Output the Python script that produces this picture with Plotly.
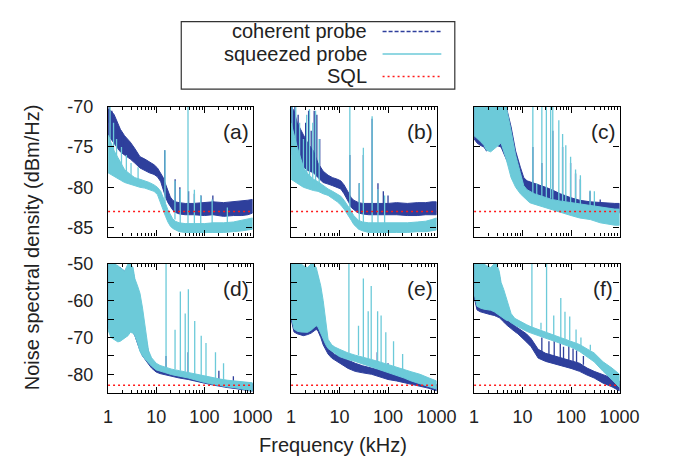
import plotly.graph_objects as go

# ---------------- data ----------------
FREQ_TOP = [1, 1.15, 1.34, 1.6, 1.8, 2.2, 2.9, 3.6, 4.6, 5.8, 7.2, 9, 10.6, 12.4, 14,
            15.6, 17.5, 19.6, 22, 24.7, 30, 40, 60, 100, 150, 250, 400, 600, 800, 1000]
FREQ_BOT = [1, 1.15, 1.34, 1.6, 1.8, 2.2, 2.6, 2.9, 3.3, 3.6, 4.1, 4.6, 5.2, 5.8, 6.9,
            8, 10, 12, 15, 21, 30, 46, 70, 100, 150, 214, 300, 458, 700, 1000]

# panel (a)
A_COH_HI = [-70.3, -70.5, -71, -72, -72.8, -73.6, -74.4, -75.2, -76.2, -76.5, -76.8, -77.2, -77.6, -78.2, -78.8,
            -79.6, -80.5, -81.2, -81.6, -81.8, -81.9, -82, -82, -81.9, -81.8, -81.9, -81.8, -81.7, -81.6, -81.5]
A_COH_LO = [-73.5, -74, -74.6, -75.2, -75.6, -76, -76.5, -77, -77.6, -77.9, -78.2, -78.4, -78.7, -79.3, -80.2,
            -81.2, -81.9, -82.4, -82.8, -83.1, -83.3, -83.4, -83.4, -83.5, -83.4, -83.6, -83.5, -83.5, -83.4, -83.2]
A_SQZ_HI = [-73.5, -74.5, -75.5, -76.3, -76.8, -77.8, -78.4, -78.8, -79, -79.2, -79.4, -79.7, -80, -80.5, -81.2,
            -82, -82.8, -83.4, -83.9, -84.2, -84.4, -84.5, -84.5, -84.5, -84.4, -84.4, -84.3, -84.1, -84, -83.8]
A_SQZ_LO = [-78.2, -78.4, -78.6, -78.9, -79.1, -79.4, -79.6, -79.8, -80, -80.1, -80.3, -80.5, -80.9, -81.8, -82.8,
            -83.6, -84.3, -84.8, -85.1, -85.3, -85.5, -85.6, -85.6, -85.6, -85.6, -85.6, -85.5, -85.4, -85.3, -85.2]
A_COH_SPK_F = [1.05, 1.2, 1.35, 1.6, 2.0, 15, 24.7, 31, 47, 62, 85, 150]
A_COH_SPK_TOP = [-70, -70.5, -72, -72.5, -73.5, -75.4, -79, -80, -80.5, -80.8, -81, -81]
A_COH_SPK_BASE = [-72, -72, -73, -74, -75, -80, -82, -82, -82, -82, -82, -82]
A_SQZ_SPK_F = [1.1, 1.3, 1.5, 1.9, 2.4, 3.0, 4.2, 15.2, 24.5, 31.5, 45.7, 62, 84, 145, 300]
A_SQZ_SPK_TOP = [-70, -72, -74, -75, -76, -77, -77.5, -75.4, -79.2, -80.2, -70, -80.3, -81, -81.5, -82.5]
A_SQZ_SPK_BASE = [-76, -77, -77, -78, -78, -79, -79.5, -82, -84, -84.5, -84.5, -84.5, -84.5, -84.5, -84.5]

# panel (b)
B_COH_HI = [-70, -70.5, -72, -73, -73.5, -74.5, -75.5, -77, -78, -78.5, -78.8, -79, -79.2, -79.7, -80.3,
            -80.9, -81.3, -81.6, -81.8, -81.9, -82, -82, -82, -82, -81.9, -82, -81.9, -81.9, -81.8, -81.8]
B_COH_LO = [-75, -76, -76.8, -77.2, -77.5, -77.9, -78.2, -78.8, -79.4, -79.6, -79.8, -80, -80.2, -80.8, -81.3,
            -81.9, -82.5, -82.8, -83, -83.2, -83.3, -83.4, -83.4, -83.4, -83.4, -83.5, -83.5, -83.4, -83.4, -83.4]
B_SQZ_HI = [-72, -73.5, -75, -76.5, -77.5, -78.3, -79, -79.3, -79.8, -80.2, -80.5, -80.8, -81.1, -81.6, -82,
            -82.5, -83, -83.5, -83.8, -84.1, -84.3, -84.4, -84.4, -84.4, -84.4, -84.4, -84.3, -84.2, -84, -83.8]
B_SQZ_LO = [-79, -79.2, -79.5, -79.8, -80, -80.2, -80.4, -80.5, -80.8, -81, -81.4, -81.8, -82.2, -82.7, -83.2,
            -83.6, -84.1, -84.6, -84.9, -85.2, -85.4, -85.6, -85.6, -85.6, -85.6, -85.6, -85.5, -85.5, -85.4, -85.3]
B_COH_SPK_F = [1.05, 1.2, 1.4, 1.7, 2.0, 2.3, 2.6, 3.0, 3.4, 3.9, 16.3, 25.5, 31, 47, 62, 80, 100]
B_COH_SPK_TOP = [-70, -70, -71, -73.5, -72, -70.5, -73, -70.5, -71, -74, -76, -79.5, -76, -71.5, -79.5, -80.5, -81]
B_COH_SPK_BASE = [-74, -74, -75, -75, -76, -76, -77, -77, -78, -78, -81, -82, -82, -82, -82, -82, -82]
B_SQZ_SPK_F = [1.05, 1.25, 1.5, 1.8, 2.1, 2.4, 2.8, 3.2, 3.8, 16.3, 25.5, 31, 47, 62, 85]
B_SQZ_SPK_TOP = [-70, -70, -72, -74, -71, -70.3, -72, -70.5, -74, -70, -79.5, -75.1, -71.2, -80.2, -81]
B_SQZ_SPK_BASE = [-76, -77, -78, -79, -79, -79, -80, -80, -80, -83, -84.5, -84.5, -84.5, -84.5, -84.5]

# panel (c)
C_COH_HI = [-70, -70, -70, -70, -70, -70, -70, -70, -70, -72.5, -75.5, -77.5, -78.8, -79.2, -79.3,
            -79.4, -79.5, -79.6, -79.7, -79.8, -80, -80.3, -80.8, -81.3, -81.6, -81.8, -81.9, -81.9, -82, -82]
C_COH_LO = [-74, -74.5, -74.8, -75, -75.5, -75.2, -74.8, -75, -76.5, -77.8, -78.8, -79.6, -80, -80.4, -80.6,
            -80.8, -81, -81.2, -81.4, -81.6, -81.8, -82, -82.3, -82.6, -82.8, -83, -83.1, -83.1, -83.2, -83.2]
C_SQZ_HI = [-70, -70, -70, -70, -70, -70, -70, -70, -70, -73, -76, -78.2, -79.8, -80.3, -80.5,
            -80.7, -80.8, -80.9, -81, -81.1, -81.3, -81.5, -81.7, -81.9, -82.1, -82.3, -82.5, -82.6, -82.7, -82.7]
C_SQZ_LO = [-73.6, -73.9, -74.3, -74.8, -75.4, -75.6, -75, -74.5, -76.5, -78.8, -80, -80.8, -81.3, -81.6, -81.9,
            -82, -82.1, -82.2, -82.3, -82.4, -82.6, -82.8, -83.1, -83.5, -83.8, -84, -84.4, -84.6, -84.7, -84.7]
C_COH_SPK_F = [16.3, 25, 42, 67, 98, 124, 156, 247, 400]
C_COH_SPK_TOP = [-75, -77, -73, -75, -77, -78.3, -79, -80.5, -81.5]
C_COH_SPK_BASE = [-80, -80.5, -80.8, -81, -81.5, -81.8, -82, -82, -82]
C_SQZ_SPK_F = [16.3, 19.6, 25, 31, 38, 42, 56, 67, 78, 98, 124, 156, 247, 303]
C_SQZ_SPK_TOP = [-70, -79.5, -70, -70, -70, -70, -71.7, -73.4, -74.8, -76.2, -77.8, -78.5, -80.4, -80.5]
C_SQZ_SPK_BASE = [-81, -81.2, -81.3, -81.4, -81.4, -81.5, -81.6, -81.7, -81.8, -82, -82.1, -82.2, -82.4, -82.5]

# panel (d)
D_COH_HI = [-50, -50, -50, -51, -51, -52, -51, -51, -52, -55, -58, -61, -65, -69, -74,
            -76, -77.5, -78, -78.4, -79, -79.4, -79.9, -80.4, -80.8, -81.2, -81.6, -81.9, -82.1, -82.3, -82.5]
D_COH_LO = [-67, -69.5, -70, -70.5, -70.5, -70, -69, -68.3, -68.5, -69.5, -71.5, -73.5, -75, -76, -77.2,
            -78.3, -79.4, -79.8, -80.1, -80.6, -81, -81.4, -81.9, -82.4, -82.9, -83.3, -83.6, -83.9, -84.2, -84.6]
D_SQZ_HI = [-50, -50, -50, -50.5, -51, -52, -50, -50, -51, -54, -56, -58, -62, -67, -73.5,
            -75.5, -77, -77.6, -78, -78.6, -79, -79.5, -80, -80.5, -81, -81.3, -81.6, -81.8, -82, -82.3]
D_SQZ_LO = [-68, -70, -70.5, -71.2, -71, -70.3, -69.5, -68.6, -68.8, -69.5, -71.5, -73.8, -75, -75.8, -77,
            -77.8, -78.8, -79.2, -79.5, -80.1, -80.5, -81, -81.6, -82.2, -82.7, -83.1, -83.4, -83.7, -84.1, -84.5]
D_COH_SPK_F = [2.1, 16, 46, 200, 400]
D_COH_SPK_TOP = [-52, -75, -74, -79, -80.5]
D_COH_SPK_BASE = [-60, -78.4, -80, -81.6, -82]
D_SQZ_SPK_F = [16, 24.6, 31.7, 40, 46.5, 63, 86, 108, 170, 250]
D_SQZ_SPK_TOP = [-50, -67.9, -57.5, -63.5, -56.9, -65.5, -69.5, -71.5, -74, -77]
D_SQZ_SPK_BASE = [-78, -78.6, -79, -79.3, -79.5, -80, -80.3, -80.6, -81, -81.4]

# panel (e)
E_COH_HI = [-50, -50, -50, -50.5, -51, -51.5, -51, -51, -52, -54, -58, -63, -69, -72, -73.9,
            -74.6, -75.2, -75.7, -76.3, -77, -77.7, -78.3, -79, -79.6, -80, -80.5, -80.9, -81.4, -82, -82.7]
E_COH_LO = [-65, -68.5, -69, -69.3, -69.5, -69.2, -68.8, -68.3, -67.8, -68.3, -70, -72, -73.4, -74.5, -75.6,
            -76.3, -77, -77.6, -78.4, -79.2, -79.6, -80, -80.7, -81.4, -81.8, -82.3, -82.7, -83.2, -83.8, -84.5]
E_SQZ_HI = [-50, -50, -50, -50, -50.5, -51, -50, -50, -51, -53, -56, -60, -66, -70.5, -72,
            -72.6, -73.2, -73.7, -74.2, -74.8, -75.3, -76, -76.7, -77.4, -78, -78.7, -79.3, -80, -81, -81.8]
E_SQZ_LO = [-64, -67.7, -68.3, -68.5, -68.6, -68.6, -68, -67.5, -66.8, -67.2, -68.5, -70.3, -72, -73, -73.7,
            -74.3, -75.2, -75.6, -76, -76.5, -77.1, -77.9, -78.7, -79.6, -80.3, -81, -81.8, -82.7, -83.4, -84]
E_COH_SPK_F = [2.0, 60, 100, 200]
E_COH_SPK_TOP = [-55, -74, -77, -78.5]
E_COH_SPK_BASE = [-60, -78.7, -79.6, -80.4]
E_SQZ_SPK_F = [15.6, 24.6, 31, 39, 45, 61, 72, 90, 130, 200]
E_SQZ_SPK_TOP = [-50, -66.8, -54, -62.9, -56, -62.9, -64, -68.6, -71, -74.5]
E_SQZ_SPK_BASE = [-74.2, -74.8, -75.3, -75.8, -76, -76.5, -76.8, -77.3, -77.8, -78.6]

# panel (f)
F_COH_HI = [-50, -50, -50, -51, -51, -52, -51, -51, -53, -56, -59, -61.5, -64, -65.5, -66.8,
            -67.4, -68.2, -69, -70.3, -73.2, -74.3, -75, -75.7, -76.2, -77, -78.3, -79.2, -80.1, -81, -81.8]
F_COH_LO = [-59, -62.5, -63, -63.3, -63.6, -63.8, -64, -64.3, -64.6, -65, -65.8, -66.5, -67.2, -67.6, -68.4,
            -69, -70.1, -71.2, -72.5, -75.6, -76.5, -77.1, -77.8, -78.4, -79.2, -80.2, -81, -82.4, -83.4, -84.5]
F_SQZ_HI = [-50, -50, -50, -50, -50.5, -51, -50, -50, -52, -55, -57, -59, -61.5, -63.5, -64.8,
            -65.3, -66, -66.5, -67.1, -67.8, -68.6, -69.5, -70.2, -70.9, -71.9, -73.1, -74.2, -76.6, -78.3, -80]
F_SQZ_LO = [-58, -61.5, -62, -62.3, -62.5, -62.6, -63, -63.3, -63.8, -64.2, -64.8, -65.3, -65.5, -66, -66.6,
            -67.2, -67.8, -68.3, -68.8, -69.5, -70.3, -71.2, -71.9, -72.6, -73.8, -75.2, -76.6, -79.2, -81.5, -83.6]
F_COH_SPK_F = [25, 35, 45, 60, 70, 90, 110, 130, 180]
F_COH_SPK_TOP = [-70, -71, -70.8, -71, -72.5, -72, -73, -73.5, -75]
F_COH_SPK_BASE = [-74.5, -75, -75.3, -75.6, -75.8, -76.1, -76.4, -76.7, -77.4]
F_SQZ_SPK_F = [15.6, 24, 31.3, 44, 61.5, 75, 94, 127, 160, 250, 400, 600]
F_SQZ_SPK_TOP = [-50, -66, -50, -64, -59.3, -63, -64.3, -67.8, -70, -72, -75.5, -77.5]
F_SQZ_SPK_BASE = [-67.2, -67.9, -68.5, -69.3, -70, -70.4, -70.8, -71.5, -72.2, -73.5, -75.5, -77.5]

SQL_LEVEL = -83
PANEL_LABELS = ["(a)", "(b)", "(c)", "(d)", "(e)", "(f)"]
SERIES_NAMES = ["coherent probe", "squeezed probe", "SQL"]
X_TICKS = [1, 10, 100, 1000]
X_MINOR = [2, 3, 4, 5, 6, 7, 8, 9, 20, 30, 40, 50, 60, 70, 80, 90, 200, 300, 400, 500, 600, 700, 800, 900]
Y_TICKS_TOP = [-70, -75, -80, -85]
Y_TICKS_BOT = [-50, -55, -60, -65, -70, -75, -80, -85]
Y_TEXT_BOT = ["-50", "", "-60", "", "-70", "", "-80", ""]

# ---------------- styling / layout ----------------
W, H = 679, 465
COH_COLOR = "#2e3f9c"
SQZ_COLOR = "#6ccad9"
SQL_COLOR = "#ff1a1a"
FONT = "Liberation Sans, Arial, Helvetica, sans-serif"
TXT = "#222222"

COLS = [(107, 257), (297, 448), (487, 638)]
ROWS = [(99, 232), (260, 392)]


def px(x):
    return x / W


def py(y):
    return 1 - y / H


panels = [
    (FREQ_TOP, A_COH_HI, A_COH_LO, A_SQZ_HI, A_SQZ_LO, A_COH_SPK_F, A_COH_SPK_TOP, A_COH_SPK_BASE,
     A_SQZ_SPK_F, A_SQZ_SPK_TOP, A_SQZ_SPK_BASE),
    (FREQ_TOP, B_COH_HI, B_COH_LO, B_SQZ_HI, B_SQZ_LO, B_COH_SPK_F, B_COH_SPK_TOP, B_COH_SPK_BASE,
     B_SQZ_SPK_F, B_SQZ_SPK_TOP, B_SQZ_SPK_BASE),
    (FREQ_TOP, C_COH_HI, C_COH_LO, C_SQZ_HI, C_SQZ_LO, C_COH_SPK_F, C_COH_SPK_TOP, C_COH_SPK_BASE,
     C_SQZ_SPK_F, C_SQZ_SPK_TOP, C_SQZ_SPK_BASE),
    (FREQ_BOT, D_COH_HI, D_COH_LO, D_SQZ_HI, D_SQZ_LO, D_COH_SPK_F, D_COH_SPK_TOP, D_COH_SPK_BASE,
     D_SQZ_SPK_F, D_SQZ_SPK_TOP, D_SQZ_SPK_BASE),
    (FREQ_BOT, E_COH_HI, E_COH_LO, E_SQZ_HI, E_SQZ_LO, E_COH_SPK_F, E_COH_SPK_TOP, E_COH_SPK_BASE,
     E_SQZ_SPK_F, E_SQZ_SPK_TOP, E_SQZ_SPK_BASE),
    (FREQ_BOT, F_COH_HI, F_COH_LO, F_SQZ_HI, F_SQZ_LO, F_COH_SPK_F, F_COH_SPK_TOP, F_COH_SPK_BASE,
     F_SQZ_SPK_F, F_SQZ_SPK_TOP, F_SQZ_SPK_BASE),
]


def band(f, hi, lo, color, xa, ya):
    return go.Scatter(x=list(f) + list(f[::-1]), y=list(hi) + list(lo[::-1]), fill="toself",
                      fillcolor=color, mode="lines", line=dict(color=color, width=1),
                      xaxis=xa, yaxis=ya, hoverinfo="skip", showlegend=False)


def spikes(f, top, base, color, xa, ya):
    xs, ys = [], []
    for fi, t, b in zip(f, top, base):
        xs += [fi, fi, None]
        ys += [b, t, None]
    return go.Scatter(x=xs, y=ys, mode="lines", line=dict(color=color, width=1.3),
                      xaxis=xa, yaxis=ya, hoverinfo="skip", showlegend=False)


fig = go.Figure()
layout = dict(width=W, height=H, margin=dict(l=0, r=0, t=0, b=0),
              paper_bgcolor="white", plot_bgcolor="white", showlegend=False,
              font=dict(family=FONT, color=TXT, size=18))
annotations = []
shapes = []

for i, p in enumerate(panels):
    (f, ch, cl, sh, sl, cf, ct, cb, sf, st, sb) = p
    n = i + 1
    sfx = "" if n == 1 else str(n)
    xa, ya = "x" + sfx, "y" + sfx
    row, col = divmod(i, 3)
    fig.add_trace(band(f, ch, cl, COH_COLOR, xa, ya))
    fig.add_trace(spikes(cf, ct, cb, COH_COLOR, xa, ya))
    fig.add_trace(band(f, sh, sl, SQZ_COLOR, xa, ya))
    fig.add_trace(spikes(sf, st, sb, SQZ_COLOR, xa, ya))
    fig.add_trace(go.Scatter(x=[X_TICKS[0], X_TICKS[-1]], y=[SQL_LEVEL, SQL_LEVEL], mode="lines",
                             line=dict(color=SQL_COLOR, width=1.5, dash="2px,3px"),
                             xaxis=xa, yaxis=ya, hoverinfo="skip", showlegend=False))
    x0, x1 = COLS[col]
    y0, y1 = ROWS[row]
    layout["xaxis" + sfx] = dict(
        type="log", range=[0, 3], domain=[px(x0), px(x1)], anchor=ya,
        showline=True, linecolor="black", linewidth=1.3, mirror="ticks",
        ticks="inside", ticklen=6, tickcolor="black", tickwidth=1,
        tickmode="array", tickvals=X_TICKS, ticktext=[str(v) for v in X_TICKS],
        showticklabels=(row == 1), showgrid=False, zeroline=False,
        ticklabelstandoff=8, tickfont=dict(size=18, family=FONT, color=TXT),
        minor=dict(ticks="inside", ticklen=3, tickcolor="black", tickwidth=1,
                   tickmode="array", tickvals=X_MINOR, showgrid=False),
    )
    if row == 0:
        yr, tv, tt = [-86.1, -70], Y_TICKS_TOP, [str(v) for v in Y_TICKS_TOP]
    else:
        yr, tv, tt = [-85, -50], Y_TICKS_BOT, Y_TEXT_BOT
    layout["yaxis" + sfx] = dict(
        range=yr, domain=[py(y1), py(y0)], anchor=xa,
        showline=True, linecolor="black", linewidth=1.3, mirror="ticks",
        ticks="inside", ticklen=6, tickcolor="black", tickwidth=1,
        tickmode="array", tickvals=tv, ticktext=tt,
        showticklabels=(col == 0), showgrid=False, zeroline=False,
        ticklabelstandoff=10, tickfont=dict(size=18, family=FONT, color=TXT),
    )
    annotations.append(dict(text=PANEL_LABELS[i], x=px(x1 - 17), y=py(y0 + 25), xref="paper",
                            yref="paper", showarrow=False, xanchor="center", yanchor="middle",
                            font=dict(size=21, family=FONT, color=TXT)))

# axis titles
annotations.append(dict(text="Noise spectral density (dBm/Hz)", x=px(28), y=py(243), xref="paper",
                        yref="paper", showarrow=False, textangle=-90, xanchor="center",
                        yanchor="middle", font=dict(size=20, family=FONT, color=TXT)))
annotations.append(dict(text="Frequency (kHz)", x=px(341), y=py(446), xref="paper", yref="paper",
                        showarrow=False, xanchor="center", yanchor="middle",
                        font=dict(size=20, family=FONT, color=TXT)))

# legend box (drawn manually: text right-aligned, sample on the right)
shapes.append(dict(type="rect", xref="paper", yref="paper", x0=px(183), x1=px(467), y0=py(81),
                   y1=py(12), line=dict(color="#333333", width=1.2), fillcolor="white", layer="above"))
leg_rows = [22, 45, 68]
leg_styles = [(COH_COLOR, "4px,2px"), (SQZ_COLOR, "solid"), (SQL_COLOR, "2px,3px")]
for name, yy, (c, d) in zip(SERIES_NAMES, leg_rows, leg_styles):
    annotations.append(dict(text=name, x=px(378), y=py(yy), xref="paper", yref="paper",
                            showarrow=False, xanchor="right", yanchor="middle",
                            font=dict(size=20, family=FONT, color=TXT)))
    shapes.append(dict(type="line", xref="paper", yref="paper", x0=px(392), x1=px(453), y0=py(yy),
                       y1=py(yy), line=dict(color=c, width=1.5, dash=d), layer="above"))

layout["annotations"] = annotations
layout["shapes"] = shapes
fig.update_layout(**layout)
fig.write_html("out.html")
